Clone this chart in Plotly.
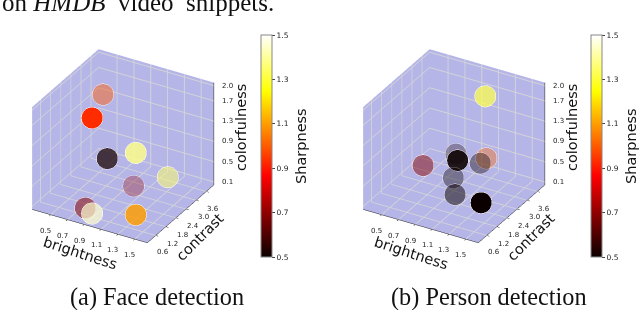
import numpy as np
import plotly.graph_objects as go

# (a) face detection
face_brightness = [0.54, 0.77, 0.89, 1.17, 1.38, 0.995, 0.74, 0.89, 1.35]
face_contrast = [3.0, 1.2, 1.5, 1.8, 2.65, 2.54, 0.95, 0.6, 0.9]
face_colorfulness = [1.6, 1.77, 0.94, 1.10, 0.475, 0.147, 0.05, 0.116, 0.224]
face_sharpness = [1.0, 0.93, 0.52, 1.38, 1.35, 0.7, 0.68, 1.45, 1.1]

# (b) person detection
person_brightness = [1.15, 0.65, 0.80, 1.18, 1.13, 1.09, 0.89, 1.03, 1.58]
person_contrast = [3.0, 1.8, 3.0, 1.2, 3.16, 3.0, 2.4, 1.8, 0.6]
person_colorfulness = [1.86, 0.60, 0.55, 1.13, 0.58, 0.51, 0.30, 0.21, 0.66]
person_sharpness = [1.32, 0.68, 0.52, 0.5, 1.02, 0.5, 0.5, 0.5, 0.5]

brightness_ticks = [0.5, 0.7, 0.9, 1.1, 1.3, 1.5]
contrast_ticks = [0.6, 1.2, 1.8, 2.4, 3.0, 3.6]
colorfulness_ticks = [0.1, 0.5, 0.9, 1.3, 1.7, 2.0]
sharpness_ticks = [0.5, 0.7, 0.9, 1.1, 1.3, 1.5]

W, H = 640, 310
HOT = [[0, '#0b0000'], [0.365, '#ff0000'], [0.746, '#ffff00'], [1, '#ffffff']]
PANE = '#b5b5e8'
GRID = '#d4d4d8'
X_RANGE = [0.28, 1.65]
Y_RANGE = [0.1, 4.05]
Z_RANGE = [0.04, 2.06]
EYE = np.array([0.433, -0.75, 0.5])


def depth_alpha(xs, ys, zs):
    # same idea as mplot3d depthshade: far markers fade out
    u = (np.array(xs) - X_RANGE[0]) / (X_RANGE[1] - X_RANGE[0])
    v = (np.array(ys) - Y_RANGE[0]) / (Y_RANGE[1] - Y_RANGE[0])
    w = (np.array(zs) - Z_RANGE[0]) / (Z_RANGE[1] - Z_RANGE[0])
    d = u * EYE[0] + v * EYE[1] + w * EYE[2]
    d = (d - d.min()) / (d.max() - d.min())
    return 0.3 + 0.7 * d


def axis(rng, ticks, spine=True):
    return dict(
        range=rng, tickvals=ticks, showticklabels=False,
        title=dict(text=''), showbackground=True, backgroundcolor=PANE,
        gridcolor=GRID, gridwidth=2, zeroline=False, showspikes=False,
        linecolor='#222222', showline=spine, ticks='outside' if spine else '', ticklen=3, tickcolor='#222222',
    )


def add_panel(fig, xs, ys, zs, cs, scene, caxis):
    alpha = depth_alpha(xs, ys, zs)
    for i in range(len(xs)):
        fig.add_trace(go.Scatter3d(
            x=[xs[i]], y=[ys[i]], z=[zs[i]], mode='markers', scene=scene, showlegend=False,
            opacity=float(alpha[i]),
            marker=dict(size=12.5, color=[cs[i]], coloraxis=caxis,
                        line=dict(width=0.3, color='rgba(255,255,255,0.35)')),
        ))
    # z spine sits on the right corner of the box, plotly would put it left
    fig.add_trace(go.Scatter3d(
        x=[X_RANGE[1]] * 2, y=[Y_RANGE[1]] * 2, z=Z_RANGE, mode='lines', scene=scene, showlegend=False,
        line=dict(color='#222222', width=1),
    ))


fig = go.Figure()
add_panel(fig, face_brightness, face_contrast, face_colorfulness, face_sharpness, 'scene', 'coloraxis')
add_panel(fig, person_brightness, person_contrast, person_colorfulness, person_sharpness, 'scene2', 'coloraxis2')


def tick_note(text, x, y, z, dx, dy):
    return dict(text=text, x=x, y=y, z=z, xshift=dx, yshift=dy, showarrow=False,
                font=dict(family='DejaVu Sans', size=7, color='#222222'))


def tick_notes():
    out = [tick_note(f'{t:.1f}', t, Y_RANGE[0], Z_RANGE[0], -5, -16) for t in brightness_ticks]
    out += [tick_note(f'{t:.1f}', X_RANGE[1], t, Z_RANGE[0], 7, -17) for t in contrast_ticks]
    out += [tick_note(f'{t:.1f}', X_RANGE[1], Y_RANGE[1], t, 14, 0) for t in colorfulness_ticks]
    return out


def scene_layout(x0, x1):
    return dict(
        domain=dict(x=[x0 / W, x1 / W], y=[1 - 279 / H, 1 - 13 / H]),
        xaxis=axis(X_RANGE, brightness_ticks),
        yaxis=axis(Y_RANGE, contrast_ticks),
        zaxis=axis(Z_RANGE, colorfulness_ticks, spine=False),
        aspectmode='manual', aspectratio=dict(x=1, y=1, z=0.89),
        annotations=tick_notes(),
        camera=dict(eye=dict(x=0.86, y=-1.49, z=1.0), center=dict(x=0, y=0, z=0), up=dict(x=0, y=0, z=1),
                    projection=dict(type='orthographic')),
    )


def cbar(x_px):
    return dict(
        cmin=0.5, cmax=1.5, colorscale=HOT,
        colorbar=dict(
            x=x_px / W, xanchor='left', y=1 - 257 / H, yanchor='bottom',
            len=222 / H, lenmode='fraction', thickness=11, thicknessmode='pixels',
            tickvals=sharpness_ticks, ticktext=[f'{t:.1f}' for t in sharpness_ticks],
            ticks='outside', ticklen=3, tickfont=dict(family='DejaVu Sans', size=7.5, color='#222222'),
            outlinecolor='#888888', outlinewidth=1, xpad=0, ypad=0,
        ),
    )


def note(text, x, y, size, angle=0, family='DejaVu Sans', color='#111111', anchor='center'):
    return dict(text=text, x=x / W, y=1 - y / H, xref='paper', yref='paper', showarrow=False,
                textangle=angle, xanchor=anchor, yanchor='middle',
                font=dict(family=family, size=size, color=color))


notes = []
for dx in (0, 331):
    notes += [
        note('brightness', 80 + dx, 253, 14.5, 18),
        note('contrast', 200 + dx, 237, 14.5, -45),
        note('colorfulness', 241 + dx, 128, 14.5, -90),
    ]
notes += [
    note('Sharpness', 301, 146, 14.5, -90),
    note('Sharpness', 631, 146, 14.5, -90),
    note('(a) Face detection', 157, 297, 24.3, family='Liberation Serif'),
    note('(b) Person detection', 489, 297, 24.3, family='Liberation Serif'),
    note('on <i>HMDB</i>&nbsp; video&nbsp; snippets.', 0, 3, 25, family='Liberation Serif', anchor='left'),
]

fig.update_layout(
    width=W, height=H, margin=dict(l=0, r=0, t=0, b=0, autoexpand=False), paper_bgcolor='white',
    scene=scene_layout(0, 246), scene2=scene_layout(331, 577),
    coloraxis=cbar(261), coloraxis2=cbar(591),
    annotations=notes,
)
# the default page keeps an 8px body margin
fig.write_html('out.html', config=dict(displayModeBar=False),
               post_script="document.body.style.margin='0';document.body.style.overflow='hidden';")
